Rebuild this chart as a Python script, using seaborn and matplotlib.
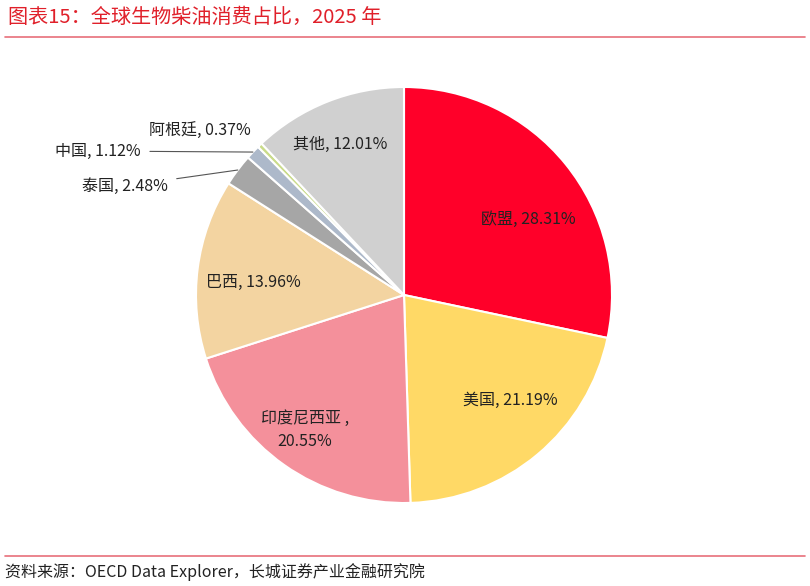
import numpy as np
import matplotlib
matplotlib.use("Agg")
import matplotlib.pyplot as plt
import seaborn as sns

sns.set_theme(style="white")
plt.rcParams["font.family"] = ["Noto Sans CJK SC", "DejaVu Sans"]

# data
countries = ["欧盟", "美国", "印度尼西亚", "巴西", "泰国", "中国", "阿根廷", "其他"]
shares = [28.31, 21.19, 20.55, 13.96, 2.48, 1.12, 0.37, 12.01]
colors = ["#FF0029", "#FFD966", "#F4909B", "#F3D4A1", "#A6A6A6", "#ADB9CA", "#C9DB8A", "#D0D0D0"]

# label placement (pie radius = 1)
label_pos = [(0.596, 0.361), (0.510, -0.505), (-0.476, -0.649), (-0.726, 0.058),
             (-1.135, 0.524), (-1.264, 0.692), (-0.981, 0.793), (-0.308, 0.726)]
label_ha = ["center", "center", "center", "center", "right", "right", "center", "center"]
leader = [False, False, False, False, True, True, False, False]

fig = plt.figure(figsize=(8.1, 5.86), dpi=100)
r_px = 208
cx, cy = 404, 295
ax = fig.add_axes([(cx - r_px) / 810, 1 - (cy + r_px) / 586, 2 * r_px / 810, 2 * r_px / 586])

wedges, _ = ax.pie(shares, colors=colors, startangle=90, counterclock=False, radius=1,
                   wedgeprops=dict(edgecolor="white", linewidth=1.5))
ax.set_xlim(-1, 1)
ax.set_ylim(-1, 1)
ax.set_aspect("equal")
ax.axis("off")

cum = np.cumsum([0] + shares[:-1])
total = sum(shares)
for i, name in enumerate(countries):
    mid = np.deg2rad(90 - (cum[i] + shares[i] / 2) / total * 360)
    if name == "印度尼西亚":
        txt = f"{name} ,\n{shares[i]:.2f}%"
    else:
        txt = f"{name}, {shares[i]:.2f}%"
    tx, ty = label_pos[i]
    if leader[i]:
        ax.annotate(txt, xy=(np.cos(mid), np.sin(mid)), xytext=(tx, ty),
                    ha=label_ha[i], va="center", fontsize=11.5, color="#222222",
                    annotation_clip=False,
                    arrowprops=dict(arrowstyle="-", color="#555555", lw=0.8,
                                    shrinkA=4, shrinkB=0))
    else:
        ax.text(tx, ty, txt, ha=label_ha[i], va="center", fontsize=11.5,
                color="#222222", linespacing=1.5)

fig.text(8 / 810, 1 - 17 / 586, "图表15：全球生物柴油消费占比，2025 年", fontsize=14.5,
         color="#E0202A", style="italic", va="center", ha="left")
fig.add_artist(plt.Line2D([5 / 810, 805 / 810], [1 - 37 / 586, 1 - 37 / 586],
                          color="#E8707A", lw=1.2))
fig.add_artist(plt.Line2D([5 / 810, 805 / 810], [1 - 556 / 586, 1 - 556 / 586],
                          color="#E8707A", lw=1.2))
fig.text(5 / 810, 1 - 572 / 586, "资料来源：OECD Data Explorer，长城证券产业金融研究院",
         fontsize=11.5, color="#222222", style="italic", va="center", ha="left")

fig.savefig("out.png", dpi=100)
